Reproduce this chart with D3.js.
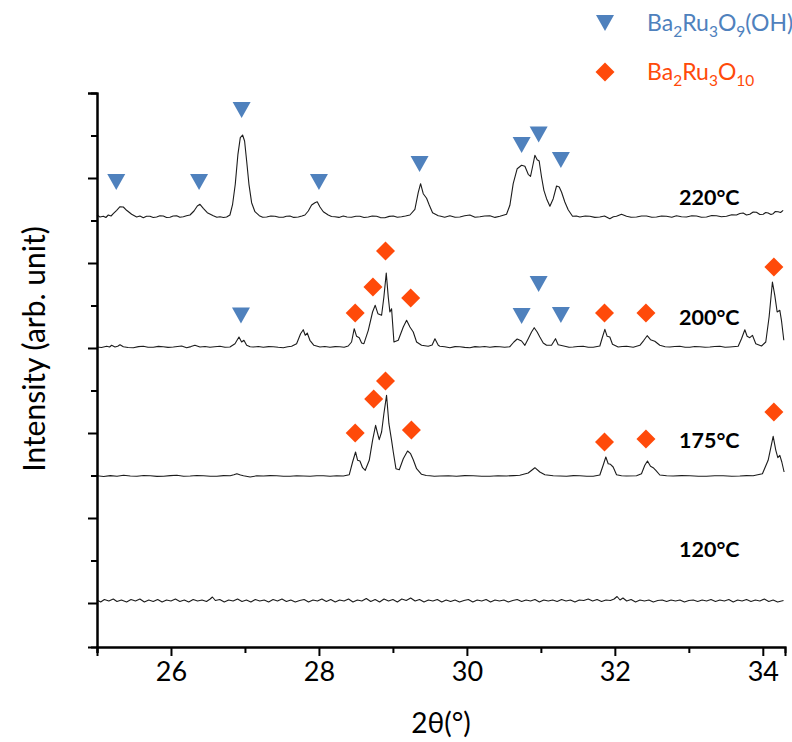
<!DOCTYPE html>
<html><head><meta charset="utf-8">
<script src="https://cdn.jsdelivr.net/npm/d3@7/dist/d3.min.js"></script>
<style>body{margin:0;background:#fff}svg{display:block}</style>
</head><body><svg id="chart" width="792" height="742"></svg>
<script>
// ---------- data ----------
const xMajorTicks = [26, 28, 30, 32, 34];
const xMinorTicks = [25, 27, 29, 31, 33];
const temperatures = ["120°C", "175°C", "200°C", "220°C"];
const baselineOffsets = [2, 127, 256, 386];

const trace120 = [[25.00,1],[25.05,-1],[25.10,1.5],[25.16,0],[25.22,2],[25.27,-0.5],[25.33,1],[25.40,-1],[25.46,1.5],[25.52,0],[25.58,2],[25.64,-1],[25.70,1],[25.76,-0.5],[25.82,1.5],[25.88,-1],[25.94,1],[26.00,0],[26.06,2],[26.12,-0.5],[26.18,1],[26.24,-1],[26.30,1.5],[26.36,0],[26.42,1],[26.48,-0.5],[26.53,2],[26.56,4],[26.60,0.5],[26.66,1.5],[26.72,-1],[26.78,1],[26.84,0],[26.90,2],[26.96,-0.5],[27.02,1],[27.08,-1],[27.14,1.5],[27.20,0],[27.26,1],[27.32,-1],[27.38,1.5],[27.44,0],[27.50,2],[27.56,-0.5],[27.62,1],[27.68,-1],[27.74,0.5],[27.80,1.5],[27.86,-1],[27.92,1],[27.98,0],[28.04,2],[28.10,-0.5],[28.16,1.5],[28.22,-1],[28.28,1],[28.34,0],[28.40,2],[28.46,-1],[28.52,1],[28.58,0],[28.64,2.5],[28.70,-0.5],[28.76,1.5],[28.82,-1],[28.88,2],[28.94,0],[29.00,1.5],[29.06,-1],[29.12,2],[29.18,0.5],[29.24,3],[29.30,0],[29.36,1.5],[29.42,-1],[29.48,1],[29.54,0],[29.60,1.5],[29.66,-1],[29.72,1],[29.78,-0.5],[29.84,1],[29.90,-1],[29.96,0.5],[30.02,1.5],[30.08,-1],[30.14,1],[30.20,0],[30.26,1.5],[30.32,-1],[30.38,1],[30.44,0],[30.50,1],[30.56,-1],[30.62,0.5],[30.68,1.5],[30.74,-0.5],[30.80,1],[30.86,0],[30.92,1.5],[30.98,-1],[31.04,1],[31.10,0],[31.16,1],[31.22,-0.5],[31.28,1.5],[31.34,0],[31.40,1],[31.46,-1],[31.52,1],[31.58,0.5],[31.64,2],[31.70,0],[31.76,1.5],[31.82,-0.5],[31.88,1],[31.94,0.5],[31.99,2],[32.03,4.5],[32.07,1],[32.11,3],[32.16,0],[32.22,1.5],[32.28,-1],[32.34,1],[32.40,0],[32.46,1],[32.52,-1],[32.58,0.5],[32.64,1],[32.70,-0.5],[32.76,1],[32.82,0],[32.88,1],[32.94,-1],[33.00,0.5],[33.06,1],[33.12,-0.5],[33.18,1],[33.24,0],[33.30,1.5],[33.36,-0.5],[33.42,1],[33.48,0],[33.54,1.5],[33.60,-1],[33.66,1],[33.72,0],[33.78,1.5],[33.84,-0.5],[33.90,1],[33.96,0],[34.02,2],[34.08,-0.5],[34.14,1],[34.20,-1],[34.28,0.5]];

const trace175 = [[25.00,0.3],[25.09,-0.5],[25.18,0.4],[25.27,-0.3],[25.36,0.7],[25.45,0],[25.54,-0.3],[25.63,0.5],[25.72,0.3],[25.81,-0.4],[25.90,-0.3],[25.99,0.4],[26.08,0.7],[26.17,-0.2],[26.26,0],[26.35,0.5],[26.44,0.3],[26.53,-0.3],[26.62,-0.3],[26.71,0.4],[26.80,0.3],[26.85,1.2],[26.89,2.3],[26.94,1],[26.98,0.3],[27.07,-1],[27.16,0.2],[27.25,0],[27.34,0.4],[27.43,0.3],[27.52,-0.3],[27.61,-0.3],[27.70,0.3],[27.79,0],[27.88,-0.3],[27.97,0.3],[28.06,0.2],[28.15,-0.3],[28.24,0.3],[28.33,0],[28.41,1.3],[28.455,14],[28.495,24],[28.523,15.7],[28.554,15],[28.59,8.3],[28.626,5.7],[28.68,15.7],[28.725,35.7],[28.766,50.7],[28.788,44],[28.815,36.3],[28.847,44],[28.878,62.3],[28.914,80.7],[28.946,52.3],[28.982,35.7],[29.005,24],[29.041,7.3],[29.086,6.3],[29.14,17.3],[29.198,25],[29.239,22.3],[29.275,16.3],[29.32,7.3],[29.387,1.7],[29.45,0.5],[29.50,0.3],[29.56,-0.3],[29.635,0],[29.75,0.3],[29.86,-0.3],[29.97,0.4],[30.086,0.3],[30.20,-0.2],[30.311,-0.3],[30.42,0.3],[30.536,0],[30.63,0.4],[30.716,0.7],[30.829,3],[30.919,8.3],[30.986,4],[31.054,1.3],[31.167,0.3],[31.26,0],[31.347,-0.3],[31.44,0.4],[31.527,0.3],[31.62,-0.2],[31.707,-0.3],[31.797,1],[31.842,10.7],[31.878,19],[31.91,12.3],[31.941,11.7],[31.977,9],[32.023,1.3],[32.09,0.3],[32.158,0],[32.293,0.3],[32.36,2.3],[32.405,10.7],[32.441,15],[32.482,9.7],[32.518,8.3],[32.554,5.7],[32.608,1],[32.70,0.3],[32.788,0],[32.90,0.4],[33.014,0.3],[33.13,-0.2],[33.239,-0.3],[33.35,0.3],[33.464,0.3],[33.58,-0.2],[33.689,0],[33.78,0.4],[33.869,0.3],[33.995,2.3],[34.072,15.7],[34.14,39.7],[34.176,25.7],[34.203,18.3],[34.23,20.7],[34.257,14],[34.288,4]];

const trace200 = [[25.00,0],[25.06,-0.5],[25.131,0.7],[25.17,0],[25.198,1.7],[25.243,0],[25.28,0.8],[25.311,2.3],[25.356,0.3],[25.42,-0.5],[25.491,-0.7],[25.56,0.4],[25.626,0.7],[25.69,-0.3],[25.761,-0.3],[25.83,0.6],[25.896,0.3],[25.96,-0.4],[26.032,0],[26.09,0.5],[26.144,1],[26.212,-0.7],[26.27,0.4],[26.324,1.7],[26.392,0],[26.46,0.5],[26.527,-0.3],[26.59,0.3],[26.662,0.7],[26.73,-0.3],[26.797,0],[26.865,3.3],[26.919,10],[26.955,5],[26.986,6.7],[27.023,1.7],[27.07,0.3],[27.113,0],[27.18,0.5],[27.248,-0.3],[27.32,0.4],[27.383,0.3],[27.45,-0.3],[27.518,-0.7],[27.58,0.3],[27.631,0.7],[27.698,3.3],[27.752,13.3],[27.788,17.3],[27.815,11.7],[27.842,14],[27.878,6.7],[27.932,1.7],[28.014,0],[28.08,0.5],[28.149,-0.3],[28.22,0.4],[28.284,0.3],[28.34,-0.3],[28.396,1],[28.441,5],[28.477,18.3],[28.509,10.7],[28.545,9.3],[28.577,4],[28.608,3.3],[28.667,16.7],[28.725,35],[28.761,41.7],[28.797,33.3],[28.847,31.7],[28.878,50],[28.91,74],[28.937,50],[28.959,35],[28.982,38.3],[29.014,5],[29.072,6.7],[29.14,20],[29.185,26.7],[29.23,20],[29.275,15],[29.32,5],[29.387,1.7],[29.477,0.7],[29.53,2],[29.568,8.3],[29.613,1.7],[29.635,0.7],[29.70,0.3],[29.77,-0.7],[29.84,0.4],[29.905,0.3],[29.97,-0.4],[30.04,-0.7],[30.11,0.4],[30.176,0],[30.24,0.5],[30.311,-0.3],[30.38,0.4],[30.446,0.3],[30.51,-0.3],[30.581,0.3],[30.635,5],[30.68,8],[30.739,6],[30.784,1.7],[30.829,8.3],[30.874,15],[30.91,19.3],[30.95,15],[30.986,10],[31.032,4],[31.077,1.7],[31.144,1.7],[31.198,8.3],[31.234,2.3],[31.324,0.7],[31.38,-0.3],[31.437,0],[31.50,0.5],[31.572,0.7],[31.64,-0.3],[31.707,-0.3],[31.797,1],[31.833,10],[31.865,17.7],[31.896,10.7],[31.932,10],[31.968,2.7],[32.045,0],[32.10,0.5],[32.158,0.7],[32.248,-0.3],[32.338,1.7],[32.392,6.7],[32.437,11.3],[32.482,7.3],[32.54,5.7],[32.608,1.7],[32.68,0.3],[32.743,0],[32.81,0.5],[32.878,0.7],[32.95,-0.3],[33.014,-0.3],[33.08,0.5],[33.149,0.3],[33.22,-0.3],[33.284,0],[33.35,0.5],[33.419,0.7],[33.49,-0.3],[33.554,0],[33.667,0.7],[33.712,8.3],[33.757,17.3],[33.788,10.7],[33.824,9.3],[33.86,11.7],[33.905,3.3],[33.982,1],[34.04,5],[34.085,30],[34.13,65],[34.162,51.7],[34.194,35],[34.23,36.7],[34.252,26.7],[34.284,6.7]];

const trace220 = [[25.00,2],[25.04,0],[25.086,0.7],[25.12,-0.5],[25.153,2],[25.19,1],[25.22,3.3],[25.266,6.7],[25.311,10.3],[25.356,10],[25.40,6.7],[25.468,2.7],[25.536,0],[25.58,1],[25.626,-0.7],[25.67,0.8],[25.716,0.7],[25.76,-0.5],[25.806,0],[25.85,1.2],[25.896,1],[25.94,-0.5],[25.986,-0.3],[26.03,1],[26.077,1.3],[26.12,-0.3],[26.167,0.3],[26.21,1.2],[26.257,2],[26.311,6],[26.356,11],[26.392,12.7],[26.437,8.7],[26.491,4.3],[26.572,1.3],[26.62,-0.3],[26.662,0.3],[26.71,-0.5],[26.752,0],[26.797,2],[26.833,12.7],[26.869,32.7],[26.905,62.7],[26.937,79.3],[26.968,82],[26.995,76],[27.023,56],[27.054,32.7],[27.09,14.3],[27.135,5.3],[27.194,1.3],[27.24,-0.3],[27.293,0],[27.35,1],[27.405,0.7],[27.46,-0.3],[27.518,-0.3],[27.56,0.8],[27.608,1],[27.66,-0.4],[27.721,0],[27.77,1],[27.811,2],[27.856,6],[27.901,12],[27.946,14.3],[27.977,15.3],[28.014,10],[28.059,5.3],[28.126,2],[28.17,0.5],[28.216,0.3],[28.27,-0.4],[28.329,1],[28.38,0],[28.441,-0.3],[28.50,0.8],[28.554,0.7],[28.61,-0.5],[28.667,0],[28.72,1],[28.779,0.7],[28.83,-0.6],[28.892,-0.7],[28.95,0.6],[29.005,1],[29.06,-0.3],[29.117,0.3],[29.17,1],[29.23,2],[29.297,7.7],[29.342,24.3],[29.374,33.3],[29.41,23.3],[29.455,18.7],[29.491,12],[29.536,4.3],[29.613,1.3],[29.635,1],[29.70,-0.3],[29.77,1.3],[29.84,-0.3],[29.905,0],[29.97,1.2],[30.04,2],[30.11,-0.3],[30.176,0.3],[30.24,1],[30.311,1.3],[30.38,-0.4],[30.446,0.7],[30.536,2.7],[30.581,11.7],[30.626,33.3],[30.68,48.3],[30.739,51.7],[30.784,50.7],[30.829,42.7],[30.86,40.7],[30.887,50],[30.919,61.7],[30.95,57.3],[30.977,56],[31.009,40],[31.041,26.7],[31.077,18.3],[31.122,10.7],[31.167,18.3],[31.212,31],[31.248,30],[31.279,25],[31.324,15],[31.369,7.3],[31.428,0.7],[31.48,1],[31.527,0],[31.60,1],[31.662,0.7],[31.73,-0.4],[31.797,0],[31.86,1],[31.932,-1.7],[31.98,0.3],[32.022,0.7],[32.09,2.7],[32.158,0.7],[32.22,-0.3],[32.293,0],[32.36,1],[32.428,1],[32.50,-0.3],[32.563,0],[32.63,1],[32.698,0.7],[32.77,-0.3],[32.833,1.3],[32.90,0.3],[32.968,0],[33.04,1.2],[33.104,1],[33.17,-0.3],[33.239,0],[33.31,1.5],[33.374,1.3],[33.44,0.3],[33.509,0.7],[33.58,2.2],[33.644,2],[33.69,3.5],[33.734,4],[33.78,2],[33.824,2.7],[33.87,5],[33.914,4.7],[33.96,2.5],[34.005,2.7],[34.04,4.5],[34.072,4],[34.11,2.5],[34.14,3.3],[34.17,5.5],[34.207,5.3],[34.24,4.5],[34.275,6.7]];

// markers: [2θ, intensity level]
const triangles220 = [[25.26,421],[26.38,421],[26.955,493],[28.0,421],[29.36,439],[30.74,458],[30.97,468.5],[31.27,443]];
const triangles200 = [[26.946,287.5],[30.74,287],[30.97,319],[31.27,288]];
const diamonds200 = [[28.49,290],[28.73,316],[28.90,352],[29.24,305],[31.86,290],[32.42,290],[34.15,336]];
const diamonds175 = [[28.49,170],[28.74,204],[28.90,222],[29.25,173],[31.86,161],[32.42,164],[34.15,191]];

const yMajorTicks = [0, 85, 170, 255, 340, 425, 510];
const yMinorTicks = [42.5, 127.5, 212.5, 297.5, 382.5, 467.5];

// ---------- layout ----------
const plot = {left: 97, right: 785, top: 93, bottom: 647};
const blue = "#4F81BD", orange = "#FF4A0A";
const svg = d3.select("#chart");

const x = d3.scaleLinear().domain([25, 34.3]).range([plot.left, plot.right]);
const y = d3.scaleLinear().domain([-44, 510]).range([plot.bottom, plot.top]);

// traces
const traces = [trace120, trace175, trace200, trace220];
const line = d3.line().x(d => x(d[0])).y(d => y(d[1]));
traces.forEach((t, i) => {
  const off = baselineOffsets[i];
  svg.append("path")
    .attr("d", line(t.map(d => [d[0], d[1] + off])))
    .attr("fill", "none").attr("stroke", "#1c1c1c").attr("stroke-width", 1.1)
    .attr("stroke-linejoin", "round");
});

// axes
const xAxis = svg.append("g").attr("transform", `translate(0,${plot.bottom})`)
  .call(d3.axisBottom(x).tickValues(xMajorTicks).tickSize(9).tickPadding(6).tickFormat(d3.format("d")));
const xMinor = svg.append("g").attr("transform", `translate(0,${plot.bottom})`)
  .call(d3.axisBottom(x).tickValues(xMinorTicks).tickSize(6).tickFormat(""));
const yAxis = svg.append("g").attr("transform", `translate(${plot.left},0)`)
  .call(d3.axisLeft(y).tickValues(yMajorTicks).tickSize(9).tickFormat(""));
const yMinor = svg.append("g").attr("transform", `translate(${plot.left},0)`)
  .call(d3.axisLeft(y).tickValues(yMinorTicks).tickSize(6).tickFormat(""));
[xAxis, xMinor, yAxis, yMinor].forEach(g => {
  g.select(".domain").attr("stroke", "#000").attr("stroke-width", 2);
  g.selectAll(".tick line").attr("stroke", "#000").attr("stroke-width", 2);
});
xAxis.selectAll(".tick text").attr("font-family", "Lato, 'Open Sans', sans-serif")
  .attr("font-size", 27).attr("fill", "#000");

// axis titles
svg.append("text").attr("x", 441).attr("y", 733).attr("text-anchor", "middle")
  .attr("font-family", "Lato, 'Open Sans', sans-serif").attr("font-size", 28).text("2θ(°)");
svg.append("text").attr("transform", "translate(45,349) rotate(-90)").attr("text-anchor", "middle")
  .attr("font-family", "Lato, 'Open Sans', sans-serif").attr("font-size", 30).text("Intensity (arb. unit)");

// temperature labels
const labelBaselines = [557, 448, 325, 205];
temperatures.forEach((t, i) => {
  svg.append("text").attr("x", 679).attr("y", labelBaselines[i])
    .attr("font-family", "Lato, 'Open Sans', sans-serif").attr("font-weight", 700)
    .attr("font-size", 21.5).attr("fill", "#000").text(t);
});

// markers
const triPath = "M-9,-8L9,-8L0,8Z";
const diaPath = "M0,-9.5L9.5,0L0,9.5L-9.5,0Z";
const tris = triangles220.concat(triangles200);
svg.append("g").selectAll("path").data(tris).join("path")
  .attr("d", triPath).attr("fill", blue)
  .attr("transform", d => `translate(${x(d[0])},${y(d[1])})`);
const dias = diamonds200.concat(diamonds175);
svg.append("g").selectAll("path").data(dias).join("path")
  .attr("d", diaPath).attr("fill", orange)
  .attr("transform", d => `translate(${x(d[0])},${y(d[1])})`);

// legend
const legend = [
  {sym: triPath, color: blue, y: 23, parts: [["Ba",0],["2",1],["Ru",0],["3",1],["O",0],["9",1],["(OH)",0]]},
  {sym: diaPath, color: orange, y: 72, parts: [["Ba",0],["2",1],["Ru",0],["3",1],["O",0],["10",1]]}
];
legend.forEach(l => {
  svg.append("path").attr("d", l.sym).attr("fill", l.color).attr("transform", `translate(605,${l.y})`);
  const t = svg.append("text").attr("x", 647).attr("y", l.y + 8)
    .attr("font-family", "Lato, 'Open Sans', sans-serif").attr("font-size", 23).attr("fill", l.color);
  let prev = 0;
  l.parts.forEach(p => {
    const dy = (p[1] - prev) * 5.5;
    t.append("tspan").attr("dy", dy).attr("font-size", p[1] ? 15.5 : 23).text(p[0]);
    prev = p[1];
  });
});
</script></body></html>
